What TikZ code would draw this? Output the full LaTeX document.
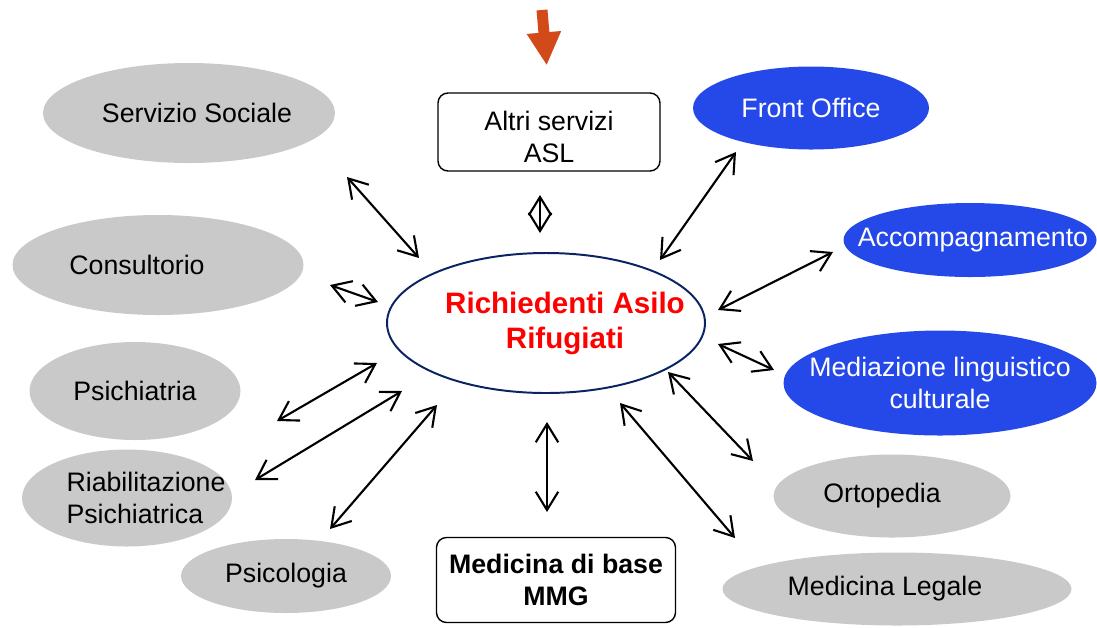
\documentclass[tikz,border=0pt]{standalone}
\usepackage{fontspec}
\setmainfont{Liberation Sans}
\usetikzlibrary{shapes.geometric}
\usetikzlibrary{arrows.meta}
\usetikzlibrary{positioning}

\definecolor{ovalgray}{HTML}{C9C9C9}
\definecolor{ovalblue}{HTML}{2549E8}
\definecolor{hubnavy}{HTML}{0A2463}
\definecolor{feedorange}{HTML}{D24A1A}
\newcommand{\px}{0.025cm}
\newcommand{\ovalfont}{\fontsize{19}{22.5}\selectfont}

\begin{document}
\begin{tikzpicture}
      \tikzset{
        x=0.025cm, y=-0.025cm,
        sz/.style 2 args={minimum width=#1*\px, minimum height=#2*\px},
        oval/.style={ellipse, inner sep=0pt},
        grayoval/.style={oval, fill=ovalgray},
        blueoval/.style={oval, fill=ovalblue},
        hub/.style={oval, draw=hubnavy, line width=1.4pt, fill=white},
        lbl/.style={font=\ovalfont, align=center, inner sep=0pt},
        wlbl/.style={lbl, text=white},
        llbl/.style={lbl, align=left},
        hublbl/.style={font=\fontsize{21}{25}\selectfont\bfseries, text=red,
          align=center, inner sep=0pt},
        servbox/.style={draw, rounded corners=0.25cm, line width=1pt,
          font=\ovalfont, align=center},
        link/.style={{Straight Barb[length=13pt,width=16pt]}-{Straight Barb[length=13pt,width=16pt]},
          line width=1.5pt},
        inflow/.style={-{Triangle[length=23.5pt,width=22.8pt]}, draw=feedorange,
          line width=7.8pt, shorten >=27*\px},
      }
      \useasboundingbox (0,0) rectangle (1097,627);

      % centre
      \node[hub, sz={318}{140},
        label={[hublbl, xshift=19*\px]center:Richiedenti Asilo\\Rifugiati}] (rich) at (546,323) {};

      % services
      \node[servbox, sz={222}{78},
        label={[lbl, yshift=-5*\px]center:Altri servizi\\ASL}] (altri) at (549,132) {};
      \node[servbox, sz={239}{85}, font=\ovalfont\bfseries] (mmg) at (556,580) {Medicina di base\\MMG};

      % left side
      \node[grayoval, sz={292}{100}, label={[lbl, xshift=8*\px]center:Servizio Sociale}] (sociale) at (189,113) {};
      \node[grayoval, sz={291}{100}, label={[lbl, xshift=-21*\px]center:Consultorio}] (consult) at (158,265) {};
      \node[grayoval, sz={211}{98}, label={[lbl]center:Psichiatria}] (psich) at (135,391) {};
      \node[grayoval, sz={210}{97}, label={[llbl, xshift=19*\px]center:Riabilitazione\\Psichiatrica}] (riab) at (127,498) {};
      \node[grayoval, sz={210}{74}, label={[lbl]center:Psicologia}] (psicol) at (286,576) {};

      % right side
      \node[blueoval, sz={236}{83}, label={[wlbl]center:Front Office}] (front) at (811,108) {};
      \node[blueoval, sz={253}{74}, label={[wlbl, xshift=3*\px]center:Accompagnamento}] (accomp) at (970,240) {};
      \node[blueoval, sz={313}{105}, label={[wlbl]center:Mediazione linguistico\\culturale}] (mediaz) at (940,383) {};
      \node[grayoval, sz={237}{83}, label={[lbl, xshift=-10*\px]center:Ortopedia}] (ortop) at (892,496) {};
      \node[grayoval, sz={349}{73}, label={[lbl, xshift=-12*\px]center:Medicina Legale}] (legale) at (897,589) {};

      % incoming arrow
      \coordinate (feed) at (542,10);
      \draw[inflow] (feed) -- (altri.north);

      % links
      \foreach \n/\xa/\ya/\xb/\yb in {
          sociale/347/177/419/258, consult/330/285/378/302,
          altri/540/195/540/233, front/736/152/660/260,
          accomp/833/252/718/310, mediaz/718/344/774/370,
          ortop/668/372/753/461, legale/620/403/735/538,
          mmg/547/422/547/512, psich/377/363/277/421,
          riab/402/391/255/480, psicol/437/405/330/529} {
        \coordinate (\n-a) at (\xa,\ya);
        \coordinate (\n-b) at (\xb,\yb);
        \draw[link] (\n-a) -- (\n-b);
      }
\end{tikzpicture}
\end{document}
